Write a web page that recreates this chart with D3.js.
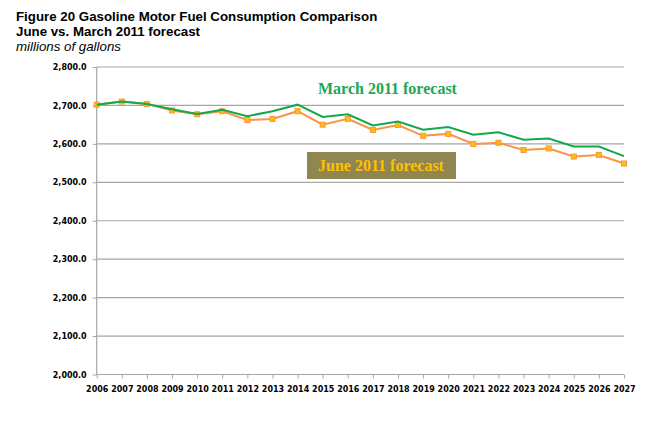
<!DOCTYPE html>
<html lang="en">
<head>
    <meta charset="utf-8" />
    <title>Gasoline Motor Fuel Consumption Comparison</title>
    <script src="https://d3js.org/d3.v7.min.js"></script>
    <style>
        body { margin: 0; background: #fff; }
    </style>
</head>
<body>
    <script>
        // data (millions of gallons)
        var years = [2006, 2007, 2008, 2009, 2010, 2011, 2012, 2013, 2014, 2015, 2016,
                     2017, 2018, 2019, 2020, 2021, 2022, 2023, 2024, 2025, 2026, 2027];
        var march2011 = [2702, 2710, 2704, 2690, 2678, 2689, 2672, 2685, 2702, 2670, 2677,
                         2648, 2658, 2637, 2644, 2624, 2630, 2611, 2614, 2593, 2593, 2568];
        var june2011 = [2702, 2710, 2704, 2687, 2677, 2685, 2662, 2665, 2685, 2650, 2665,
                        2636, 2649, 2621, 2626, 2600, 2603, 2584, 2588, 2567, 2571, 2549];
        var yTicks = [2000, 2100, 2200, 2300, 2400, 2500, 2600, 2700, 2800];

        var w = 663;
        var h = 421;
        var svg = d3.select("body").append("svg").attr("width", w).attr("height", h);

        // titles
        svg.append("text").attr("x", 16).attr("y", 21)
            .style("font", "bold 13.3px 'Liberation Sans', Arial, sans-serif")
            .text("Figure 20 Gasoline Motor Fuel Consumption Comparison");
        svg.append("text").attr("x", 16).attr("y", 36)
            .style("font", "bold 13.3px 'Liberation Sans', Arial, sans-serif")
            .text("June vs. March 2011 forecast");
        svg.append("text").attr("x", 16).attr("y", 51)
            .style("font", "italic 13.3px 'Liberation Sans', Arial, sans-serif")
            .text("millions of gallons");

        var x = d3.scaleLinear().domain([2006, 2027]).range([96.7, 624]);
        var y = d3.scaleLinear().domain([2000, 2800]).range([374.5, 67]);

        // grid lines
        svg.append("g").selectAll("line").data(yTicks.slice(1)).enter().append("line")
            .attr("x1", x(2006)).attr("x2", x(2027))
            .attr("y1", function (d) { return y(d); })
            .attr("y2", function (d) { return y(d); })
            .attr("stroke", "#a6a6a6").attr("stroke-width", 1.2);

        // y axis
        var yAxis = svg.append("g").attr("transform", "translate(" + x(2006) + ",0)")
            .call(d3.axisLeft(y).tickValues(yTicks).tickSize(4).tickPadding(6)
                .tickFormat(d3.format(",.1f")));

        // x axis
        var xAxis = svg.append("g").attr("transform", "translate(0," + y(2000) + ")")
            .call(d3.axisBottom(x).tickValues(years).tickSize(4).tickPadding(8)
                .tickFormat(d3.format("d")));

        [yAxis, xAxis].forEach(function (a) {
            a.select(".domain").attr("stroke", "#a6a6a6").attr("stroke-width", 1.2);
            a.selectAll(".tick line").attr("stroke", "#a6a6a6");
            a.selectAll("text")
                .style("font", "bold 8px 'DejaVu Sans', sans-serif")
                .attr("fill", "#000");
        });
        yAxis.select(".domain").attr("d", "M0," + y(2800) + "V" + y(2000));
        xAxis.select(".domain").attr("d", "M" + x(2006) + ",0H" + x(2027));

        var line = d3.line()
            .x(function (d, i) { return x(years[i]); })
            .y(function (d) { return y(d); });

        // June 2011 forecast (orange, square markers)
        svg.append("path").datum(june2011)
            .attr("d", line).attr("fill", "none")
            .attr("stroke", "#f79646").attr("stroke-width", 2);
        svg.append("g").selectAll("rect").data(june2011).enter().append("rect")
            .attr("x", function (d, i) { return x(years[i]) - 2.5; })
            .attr("y", function (d) { return y(d) - 2.5; })
            .attr("width", 5).attr("height", 5)
            .attr("fill", "#ffc000").attr("stroke", "#f79646").attr("stroke-width", 1);

        // March 2011 forecast (green)
        svg.append("path").datum(march2011)
            .attr("d", line).attr("fill", "none")
            .attr("stroke", "#13a84a").attr("stroke-width", 2);

        // series labels
        svg.append("text").attr("x", 318).attr("y", 93.5)
            .style("font", "bold 16px 'Liberation Serif', 'Times New Roman', serif")
            .attr("fill", "#1aa852")
            .text("March 2011 forecast");

        svg.append("rect").attr("x", 307).attr("y", 152).attr("width", 149).attr("height", 27)
            .attr("fill", "#8f8650");
        svg.append("text").attr("x", 381).attr("y", 171).attr("text-anchor", "middle")
            .style("font", "bold 16px 'Liberation Serif', 'Times New Roman', serif")
            .attr("fill", "#ffc000")
            .text("June 2011 forecast");
    </script>
</body>
</html>
